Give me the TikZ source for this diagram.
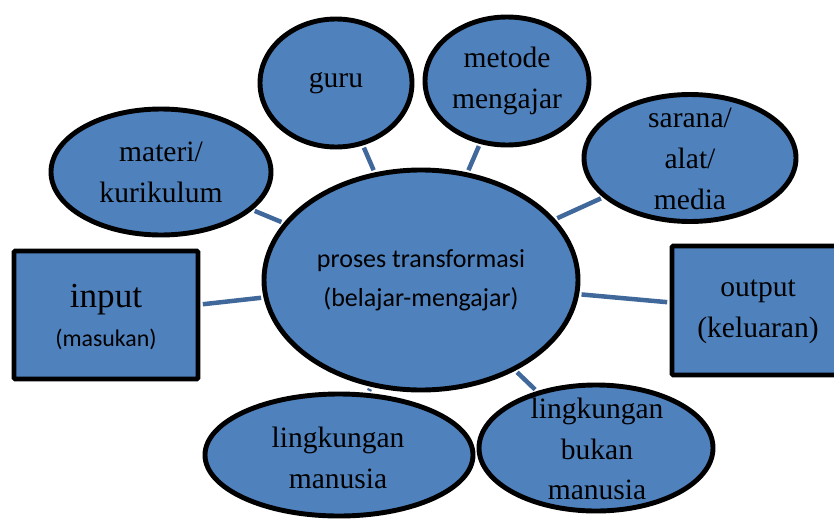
\documentclass[tikz,border=0pt]{standalone}
\usepackage{fontspec}
\setmainfont{Liberation Serif}
\newfontfamily\calib{Carlito}
\usetikzlibrary{shapes.geometric}
\definecolor{bubblefill}{HTML}{4F81BD}
\definecolor{linkblue}{HTML}{41689A}
\tikzset{
  bubble/.style={ellipse, draw=black, line width=3.5pt, fill=bubblefill, inner sep=0pt},
  kotak/.style={rectangle, draw=black, line width=3.5pt, fill=bubblefill, inner sep=0pt, rounded corners=1pt},
  teks/.style={align=center, font=\fontsize{21}{29}\selectfont, inner sep=0pt},
  link/.style={draw=linkblue, line width=3.2pt, shorten <=1.7pt, shorten >=1.7pt}
}
\begin{document}
\begin{tikzpicture}
    \useasboundingbox (0,0) rectangle (20.85,12.975);

    % Proses di tengah
    \node[bubble, minimum width=7.85cm, minimum height=5.5cm] (proses) at (10.525,5.975) {};

    % Komponen di sekeliling
    \node[bubble, minimum width=3.8cm, minimum height=3.2cm] (guru) at (8.4,10.9) {};
    \node[bubble, minimum width=5.5cm, minimum height=3.15cm] (materi) at (4.025,8.675) {};
    \node[bubble, minimum width=4.1cm, minimum height=3.2cm] (metode) at (12.675,10.95) {};
    \node[bubble, minimum width=5.3cm, minimum height=3.175cm] (sarana) at (17.25,9.025) {};
    \node[bubble, minimum width=6.7cm, minimum height=3.05cm] (manusia) at (8.475,1.6) {};
    \node[bubble, minimum width=5.85cm, minimum height=3.15cm] (bukan) at (14.9,1.775) {};

    % Input dan output
    \node[kotak, minimum width=4.6cm, minimum height=3.2cm] (input) at (2.65,5.1) {};
    \node[kotak, minimum width=4.4cm, minimum height=3.225cm] (output) at (19.0,5.2125) {};

    % Garis penghubung
    \draw[link] (materi) -- (proses);
    \draw[link] (guru) -- (proses);
    \draw[link] (metode) -- (proses);
    \draw[link] (sarana) -- (proses);
    \draw[link] (input) -- (proses);
    \draw[link] (proses) -- (output);
    \draw[link] (proses) -- (manusia);
    \draw[link] (proses) -- (bukan);

    % Teks
    \node[teks, font=\calib\fontsize{18.5}{27.5}\selectfont] (proses-t) at (10.525,5.975) {proses transformasi\\(belajar-mengajar)};
    \node[teks] (guru-t) at (guru) {guru};
    \node[teks] (materi-t) at (materi) {materi/\\kurikulum};
    \node[teks] (metode-t) at (metode) {metode\\mengajar};
    \node[teks] (sarana-t) at (17.25,9.0) {sarana/\\alat/\\media};
    \node[teks] (manusia-t) at (8.45,1.525) {lingkungan\\manusia};
    \node[teks] (bukan-t) at (14.925,1.75) {lingkungan\\bukan\\manusia};
    \node[teks, font=\fontsize{25}{28}\selectfont] (input-t) at (2.65,5.05) {input\\{\calib\fontsize{17}{20}\selectfont (masukan)}};
    \node[teks] (output-t) at (18.95,5.175) {output\\(keluaran)};
\end{tikzpicture}
\end{document}
